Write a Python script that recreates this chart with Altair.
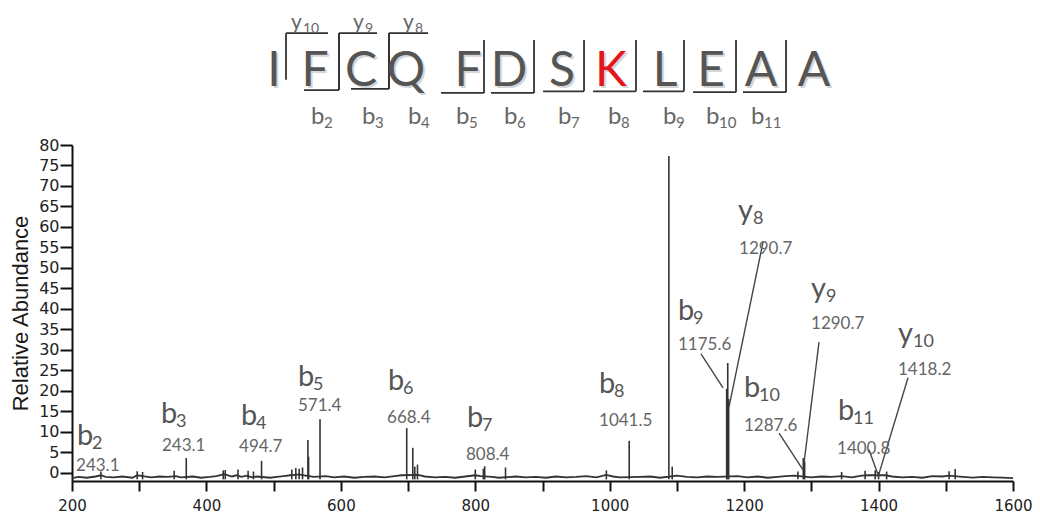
import altair as alt
import pandas as pd

# ---------------- spectrum data ----------------
peak_mz = [370, 482, 551, 552, 569, 698, 707, 710, 812, 814, 845, 995, 1029, 1088, 1093,
           1174, 1175.6, 1177, 1288, 1290, 1400, 1514]
peak_int = [3.6, 2.9, 8.0, 3.9, 13.1, 10.9, 6.1, 1.5, 1.0, 1.6, 1.3, 0.6, 7.8, 77.3, 1.5,
            20.5, 26.8, 18.0, 3.6, 2.8, 0.2, 0.9]

spike_mz = [243, 297, 305, 352, 425, 428, 447, 462, 470, 527, 533, 538, 543, 714, 800,
            1280, 1345, 1380, 1395, 1412, 1505]
spike_int = [0.3, 0.4, 0.2, 0.5, 0.6, 0.7, 0.8, 0.5, 0.3, 0.8, 1.2, 1.0, 1.3, 2.0, 0.8,
             0.3, 0.2, 0.5, 0.6, 0.3, 0.4]

noise_mz = [200, 210, 222, 235, 243, 250, 262, 275, 290, 297, 305, 318, 330, 342, 355, 362,
            380, 392, 405, 415, 425, 430, 438, 445, 452, 460, 468, 475, 495, 505, 515, 525,
            532, 538, 545, 560, 578, 590, 605, 620, 635, 650, 665, 680, 690, 715, 725, 740,
            755, 770, 785, 800, 808, 825, 835, 860, 875, 890, 905, 920, 935, 950, 965, 980,
            995, 1005, 1015, 1045, 1060, 1075, 1100, 1115, 1130, 1145, 1160, 1190, 1205, 1220,
            1235, 1250, 1262, 1275, 1300, 1315, 1330, 1345, 1360, 1375, 1385, 1410, 1420, 1435,
            1450, 1465, 1480, 1495, 1505, 1525, 1540, 1555, 1570, 1585, 1600]
noise_int = [-1.3, -1.0, -1.2, -0.9, -0.6, -1.0, -1.1, -0.9, -1.2, -0.6, -0.8, -1.1, -0.9, -1.0,
             -0.8, -1.1, -0.9, -1.2, -1.0, -0.8, -0.4, -0.5, -0.9, -0.6, -1.0, -0.7, -1.1, -0.9,
             -1.2, -1.0, -0.8, -0.6, -0.5, -0.4, -0.6, -1.0, -0.8, -1.1, -0.9, -1.2, -1.0, -0.9,
             -1.1, -0.8, -0.6, -0.5, -0.9, -1.1, -1.0, -1.2, -0.9, -0.6, -0.8, -1.0, -1.2, -0.9,
             -1.1, -1.0, -1.2, -0.9, -1.1, -1.0, -0.8, -1.1, -0.5, -0.9, -1.1, -1.0, -0.9, -1.2,
             -0.7, -1.0, -1.1, -0.9, -1.0, -0.8, -1.1, -0.9, -1.2, -1.0, -0.8, -0.7, -1.1, -0.9,
             -1.0, -0.8, -1.1, -0.7, -0.6, -0.6, -0.9, -1.1, -1.0, -1.2, -0.8, -0.9, -0.7, -1.0,
             -1.2, -1.0, -1.1, -1.2, -1.3]
BASE = -1.6

# ---------------- ion annotations ----------------
ion_type = ["b", "b", "b", "b", "b", "b", "b", "b", "y", "b", "y", "b", "y"]
ion_num = ["2", "3", "4", "5", "6", "7", "8", "9", "8", "10", "9", "11", "10"]
ion_value = ["243.1", "243.1", "494.7", "571.4", "668.4", "808.4", "1041.5", "1175.6",
             "1290.7", "1287.6", "1290.7", "1400.8", "1418.2"]
name_x = [207.4, 332.4, 451.4, 536.2, 670.1, 787.7, 984.1, 1101.6, 1190.9, 1199.8, 1299.5, 1339.7, 1428.9]
name_y = [6.8, 12.2, 11.7, 21.2, 20.1, 11.2, 19.5, 37.3, 61.7, 18.5, 42.6, 12.9, 31.6]
value_x = [206.0, 333.9, 448.5, 536.2, 668.7, 786.2, 984.1, 1101.6, 1192.4, 1199.8, 1299.5, 1338.2, 1428.9]
value_y = [0.4, 5.3, 5.1, 15.1, 12.2, 3.1, 11.4, 30.0, 53.5, 10.2, 35.0, 4.6, 23.9]

lead_x = [1135.8, 1228.1, 1251.9, 1311.4, 1385.8, 1443.8]
lead_y = [29.0, 56.3, 9.7, 31.9, 5.6, 23.2]
lead_x2 = [1168.6, 1177.5, 1287.6, 1289.1, 1399.2, 1399.2]
lead_y2 = [20.7, 16.1, 0.7, 2.4, -0.5, -1.0]

# ---------------- peptide sequence diagram ----------------
residues = ["I", "F", "C", "Q", "F", "D", "S", "K", "L", "E", "A", "A"]
residue_x = [500.5, 561.5, 630.0, 696.9, 789.2, 850.2, 929.0, 1001.9, 1082.3, 1150.7, 1225.1, 1303.9]
residue_color = ["#555555"] * 7 + ["#e3161e"] + ["#555555"] * 4
residue_y = 94.4

bfrag_left = [545.2, 615.1, 749.0, 823.4, 900.8, 975.1, 1049.5, 1123.9, 1198.3]
bfrag_right = [597.2, 671.6, 813.0, 887.4, 961.8, 1039.1, 1110.5, 1187.9, 1262.3]
bfrag_bottom = [93.4, 93.7, 92.7, 92.7, 93.1, 93.1, 93.1, 92.9, 92.9]
bfrag_top = [107.3, 107.3, 105.6, 105.6, 105.6, 105.6, 105.6, 105.6, 105.6]

yfrag_left = [518.4, 597.2, 671.6]
yfrag_right = [580.9, 653.8, 729.7]
yfrag_bottom = [95.9, 93.4, 93.7]
yfrag_top = 107.3

seq_b_x = [555.6, 631.5, 699.9, 771.3, 842.7, 923.1, 997.5, 1079.3, 1143.3, 1210.2]
seq_b_num = ["2", "3", "4", "5", "6", "7", "8", "9", "10", "11"]
seq_b_y = 85.1
seq_y_x = [525.8, 618.1, 692.5]
seq_y_num = ["10", "9", "8"]
seq_y_y = 108.2

# ---------------- tables ----------------
peaks = pd.DataFrame({"x": peak_mz + spike_mz, "y": peak_int + spike_int})
peaks["y2"] = BASE
noise = pd.DataFrame({"x": noise_mz, "y": noise_int})
names = pd.DataFrame({"x": name_x, "y": name_y, "t": ion_type, "s": ion_num})
values = pd.DataFrame({"x": value_x, "y": value_y, "t": ion_value})
leads = pd.DataFrame({"x": lead_x, "y": lead_y, "x2": lead_x2, "y2": lead_y2})
letters = pd.DataFrame({"x": residue_x, "y": [residue_y] * len(residues),
                        "t": residues, "c": residue_color})

segs = []
for l, r, b, t in zip(bfrag_left, bfrag_right, bfrag_bottom, bfrag_top):
    segs.append({"x": l, "x2": r, "y": b, "y2": b})
    segs.append({"x": r, "x2": r, "y": b, "y2": t})
for l, r, b in zip(yfrag_left, yfrag_right, yfrag_bottom):
    segs.append({"x": l, "x2": r, "y": yfrag_top, "y2": yfrag_top})
    segs.append({"x": l, "x2": l, "y": yfrag_top, "y2": b})
segs = pd.DataFrame(segs)

seqb = pd.DataFrame({"x": seq_b_x, "y": [seq_b_y] * len(seq_b_x), "t": ["b"] * len(seq_b_x), "s": seq_b_num})
seqy = pd.DataFrame({"x": seq_y_x, "y": [seq_y_y] * len(seq_y_x), "t": ["y"] * len(seq_y_x), "s": seq_y_num})

# ---------------- encodings ----------------
xs = alt.Scale(domain=[200, 1600], nice=False, zero=False)
ys = alt.Scale(domain=[-2, 80], nice=False, zero=False)
xaxis = alt.Axis(values=list(range(200, 1700, 100)),
                 labelExpr="datum.value % 200 == 0 ? datum.label : ''",
                 format="d", tickSize=10, tickWidth=2, tickColor="#111",
                 domainColor="#111", domainWidth=2, labelFont="DejaVu Sans",
                 labelFontSize=15, labelColor="#222", labelPadding=7,
                 labelOverlap=False, labelFlush=False, grid=False, title=None)
yaxis = alt.Axis(values=list(range(0, 85, 5)), tickSize=12, tickWidth=2, tickColor="#111",
                 domainColor="#111", domainWidth=2, labelFont="DejaVu Sans",
                 labelFontSize=16, labelColor="#222", labelPadding=1,
                 labelOverlap=False, grid=False, title="Relative Abundance",
                 titleFont="Liberation Sans", titleFontSize=22, titleFontWeight="normal",
                 titleColor="#1a1a1a", titlePadding=6)
X = alt.X("x:Q", scale=xs, axis=xaxis, title=None)
Y = alt.Y("y:Q", scale=ys, axis=yaxis, title="Relative Abundance")

FONT = "Lato"

noise_l = alt.Chart(noise).mark_line(color="#333", strokeWidth=1.8).encode(x=X, y=Y)
peak_l = alt.Chart(peaks).mark_rule(color="#333", strokeWidth=1.6).encode(x=X, y=Y, y2="y2:Q")
lead_l = alt.Chart(leads).mark_rule(color="#444", strokeWidth=1.4).encode(x=X, y=Y, x2="x2:Q", y2="y2:Q")
name_l = alt.Chart(names).mark_text(font=FONT, fontSize=29, color="#555", align="left",
                                    baseline="alphabetic").encode(x=X, y=Y, text="t:N")
sub_l = alt.Chart(names).mark_text(font=FONT, fontSize=18, color="#555", align="left",
                                   baseline="alphabetic", dx=15, dy=4).encode(x=X, y=Y, text="s:N")
val_l = alt.Chart(values).mark_text(font=FONT, fontSize=17, color="#666", align="left",
                                    baseline="alphabetic").encode(x=X, y=Y, text="t:N")

shadow_l = alt.Chart(letters).mark_text(font=FONT, fontSize=48, color="#bbbbbb", opacity=0.6,
                                        align="center", baseline="alphabetic", dx=2, dy=2
                                        ).encode(x=X, y=Y, text="t:N")
letter_l = alt.Chart(letters).mark_text(font=FONT, fontSize=48, align="center",
                                        baseline="alphabetic").encode(
    x=X, y=Y, text="t:N", color=alt.Color("c:N", scale=None))
seg_l = alt.Chart(segs).mark_rule(color="#333", strokeWidth=1.8).encode(x=X, y=Y, x2="x2:Q", y2="y2:Q")
seqb_l = alt.Chart(seqb).mark_text(font=FONT, fontSize=24, color="#666", align="left",
                                   baseline="alphabetic").encode(x=X, y=Y, text="t:N")
seqbs_l = alt.Chart(seqb).mark_text(font=FONT, fontSize=15, color="#666", align="left",
                                    baseline="alphabetic", dx=13, dy=4).encode(x=X, y=Y, text="s:N")
seqy_l = alt.Chart(seqy).mark_text(font=FONT, fontSize=21, color="#666", align="left",
                                   baseline="alphabetic").encode(x=X, y=Y, text="t:N")
seqys_l = alt.Chart(seqy).mark_text(font=FONT, fontSize=14, color="#666", align="left",
                                    baseline="alphabetic", dx=12, dy=4).encode(x=X, y=Y, text="s:N")

chart = alt.layer(
    noise_l, peak_l, lead_l, name_l, sub_l, val_l,
    seg_l, shadow_l, letter_l, seqb_l, seqbs_l, seqy_l, seqys_l
).properties(
    width=941, height=336,
    autosize=alt.AutoSizeParams(type="none"),
    padding={"left": 64, "top": 137, "right": 19, "bottom": 37},
    background="white",
).configure_view(stroke=None)

chart.save("out.html", embed_options={"renderer": "svg", "actions": False})
